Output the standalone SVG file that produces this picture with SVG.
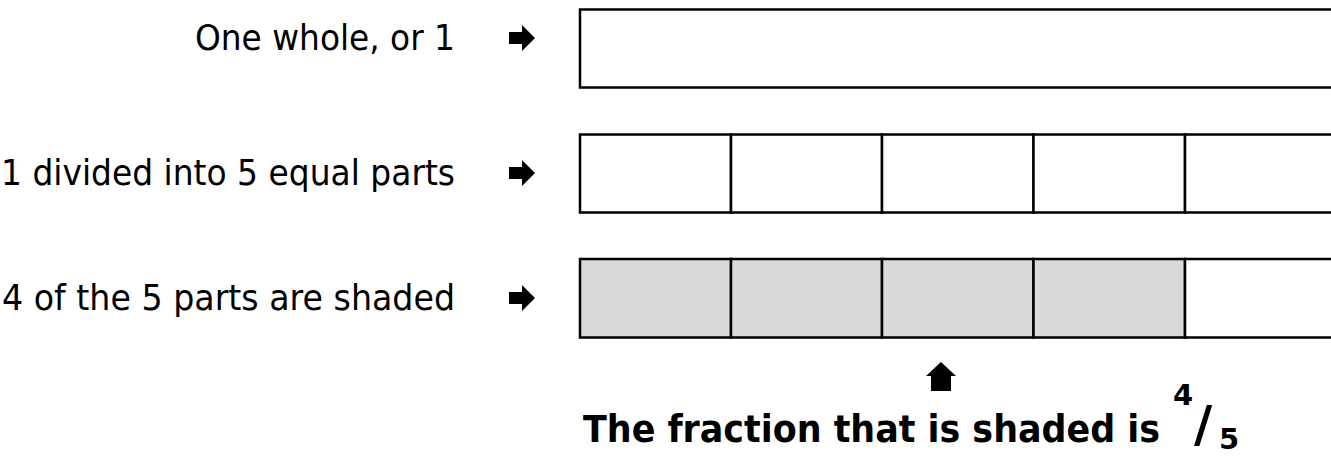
<svg xmlns="http://www.w3.org/2000/svg" width="1331" height="459" viewBox="0 0 1331 459">
<style>
.lbl{font-family:"DejaVu Sans","Liberation Sans",sans-serif;font-size:35px;fill:#000}
.frac{font-family:"DejaVu Sans","Liberation Sans",sans-serif;font-size:37px;font-weight:bold;fill:#000}
.cell{stroke:#000;stroke-width:2.5}
.plain{fill:#fff}
.shade{fill:#d9d9d9}
.arr{fill:#000}
</style>
<defs>
<path id="rarrow" d="M0,-6 L13,-6 L13,-13 L26,0 L13,13 L13,6 L0,6 Z"/>
</defs>
<rect width="1331" height="459" fill="#fff"/>
<g id="row1">
<text class="lbl" x="195" y="50" textLength="260" lengthAdjust="spacingAndGlyphs">One whole, or 1</text>
<rect class="cell plain" x="580" y="9.5" width="760" height="78"/>
</g>
<g id="row2">
<text class="lbl" x="1" y="185" textLength="454" lengthAdjust="spacingAndGlyphs">1 divided into 5 equal parts</text>
<rect class="cell plain" x="580" y="134.5" width="151" height="78"/>
<rect class="cell plain" x="731" y="134.5" width="151" height="78"/>
<rect class="cell plain" x="882" y="134.5" width="151.5" height="78"/>
<rect class="cell plain" x="1033.5" y="134.5" width="151.5" height="78"/>
<rect class="cell plain" x="1185" y="134.5" width="160" height="78"/>
</g>
<g id="row3">
<text class="lbl" x="2" y="310" textLength="453" lengthAdjust="spacingAndGlyphs">4 of the 5 parts are shaded</text>
<rect class="cell shade" x="580" y="259" width="151" height="78.5"/>
<rect class="cell shade" x="731" y="259" width="151" height="78.5"/>
<rect class="cell shade" x="882" y="259" width="151.5" height="78.5"/>
<rect class="cell shade" x="1033.5" y="259" width="151.5" height="78.5"/>
<rect class="cell plain" x="1185" y="259" width="160" height="78.5"/>
</g>
<g id="connectors">
<use href="#rarrow" class="arr" x="509" y="38"/>
<use href="#rarrow" class="arr" x="509" y="173"/>
<use href="#rarrow" class="arr" x="509" y="298"/>
<path class="arr" d="M941,362 L956,376 L951,376 L951,391 L931,391 L931,376 L926,376 Z"/>
</g>
<g id="result">
<text class="frac" x="583" y="442" textLength="577" lengthAdjust="spacingAndGlyphs">The fraction that is shaded is</text>
<text class="frac" x="1173" y="405" style="font-size:29px">4</text>
<text class="frac" x="1194" y="441" style="font-size:50px">/</text>
<text class="frac" x="1219" y="449" style="font-size:29px">5</text>
</g>
</svg>
